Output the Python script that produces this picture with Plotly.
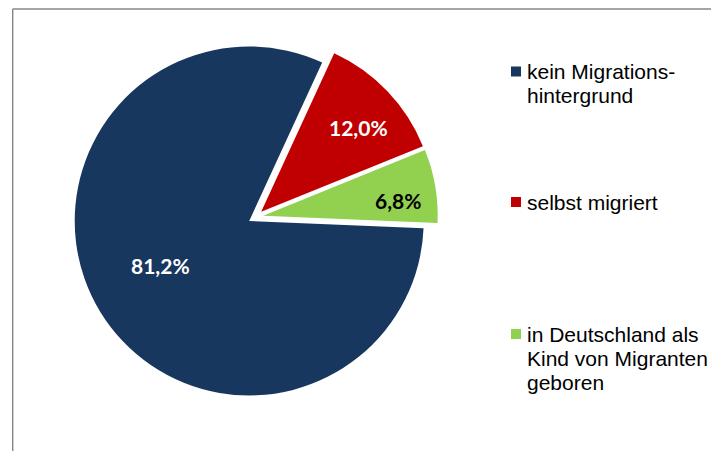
import math
import plotly.graph_objects as go

# Population shares by migration background (percent)
categories = [
    "kein Migrations-\nhintergrund",
    "selbst migriert",
    "in Deutschland als\nKind von Migranten\ngeboren",
]
shares = [81.2, 12.0, 6.8]
colors = ["#17375E", "#C00000", "#92D050"]
label_colors = ["white", "white", "black"]

value_labels = [f"{v:.1f}".replace(".", ",") + "%" for v in shares]

W, H = 711, 451

# pie geometry in pixels
cx, cy = 255.7, 217.0
R = 174.5
pull = 0.0436
rotation = 92.4  # degrees clockwise from 12 o'clock
half = R * (1 + pull)


def px_x(x):
    return x / W


def px_y(y):
    return 1 - y / H


fig = go.Figure(
    go.Pie(
        labels=[c.replace("\n", " ") for c in categories],
        values=shares,
        sort=False,
        direction="clockwise",
        rotation=rotation,
        pull=[pull] * len(shares),
        marker=dict(colors=colors, line=dict(width=0)),
        textinfo="none",
        hoverinfo="skip",
        showlegend=False,
        domain=dict(
            x=[px_x(cx - half), px_x(cx + half)],
            y=[px_y(cy + half), px_y(cy - half)],
        ),
    )
)

# value labels placed inside each slice, derived from the slice angles
label_radius = [0.568, 0.737, 0.78]
label_nudge = [-5.0, -2.9, -3.3]
annotations = []
shapes = []
total = sum(shares)
start = 90 - rotation
for i, v in enumerate(shares):
    sweep = v / total * 360
    mid = start - sweep / 2
    start -= sweep
    m = math.radians(mid)
    ax = cx + pull * R * math.cos(m)
    ay = cy - pull * R * math.sin(m)
    a = math.radians(mid + label_nudge[i])
    lx = ax + label_radius[i] * R * math.cos(a)
    ly = ay - label_radius[i] * R * math.sin(a)
    annotations.append(
        dict(
            x=px_x(lx), y=px_y(ly), xref="paper", yref="paper",
            text=f"<b>{value_labels[i]}</b>", showarrow=False,
            xanchor="center", yanchor="middle",
            font=dict(family="Lato", size=21, color=label_colors[i]),
        )
    )

# legend: colour squares with wrapped labels
legend_top = [71.5, 202.0, 334.0]
line_pitch = 24.3
sq = 10
sq_x = 511
text_x = 524.5
for i, cat in enumerate(categories):
    y0 = legend_top[i]
    shapes.append(
        dict(
            type="rect", xref="paper", yref="paper",
            x0=px_x(sq_x), x1=px_x(sq_x + sq),
            y0=px_y(y0 + sq / 2), y1=px_y(y0 - sq / 2),
            fillcolor=colors[i], line=dict(width=0),
        )
    )
    for j, line in enumerate(cat.split("\n")):
        annotations.append(
            dict(
                x=px_x(text_x), y=px_y(y0 + j * line_pitch),
                xref="paper", yref="paper", text=line, showarrow=False,
                xanchor="left", yanchor="middle",
                font=dict(family="Liberation Sans", size=21, color="#000000"),
            )
        )

# chart frame (left and top edges)
frame_color = "#878787"
shapes.append(dict(type="line", xref="paper", yref="paper",
                   x0=px_x(12.7), x1=px_x(12.7), y0=-0.05, y1=px_y(9),
                   line=dict(color=frame_color, width=1.4)))
shapes.append(dict(type="line", xref="paper", yref="paper",
                   x0=px_x(12.7), x1=1.05, y0=px_y(9), y1=px_y(9),
                   line=dict(color=frame_color, width=1.4)))

fig.update_layout(
    width=W, height=H,
    margin=dict(l=0, r=0, t=0, b=0),
    paper_bgcolor="white", plot_bgcolor="white",
    annotations=annotations, shapes=shapes,
)

fig.write_html("out.html")
